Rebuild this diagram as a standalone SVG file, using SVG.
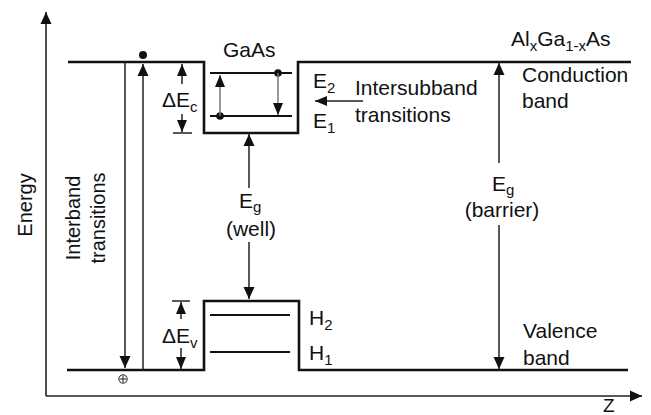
<svg xmlns="http://www.w3.org/2000/svg" width="651" height="415" viewBox="0 0 651 415">
<style>
text{font-family:"Liberation Sans",Arial,Helvetica,sans-serif;font-size:21px;fill:#111}
.sub{font-size:15px}
.band{fill:none;stroke:#111;stroke-width:2.6}
.lvl{stroke:#111;stroke-width:2.2}
.ax{stroke:#222;stroke-width:1.6;fill:none}
.ar{stroke:#222;stroke-width:1.5;fill:none}
.gr{stroke:#777;stroke-width:1.5;fill:none}
</style>
<defs>
<marker id="ah" markerWidth="12" markerHeight="12" refX="12" refY="6" orient="auto" markerUnits="userSpaceOnUse">
<path d="M0,0.5 L12,6 L0,11.5 z" fill="#111"/>
</marker>
<marker id="ahs" markerWidth="12" markerHeight="10" refX="12" refY="5" orient="auto" markerUnits="userSpaceOnUse">
<path d="M0,0 L12,5 L0,10 z" fill="#111"/>
</marker>
</defs>
<rect width="651" height="415" fill="#fff"/>

<g id="axes">
<line class="ax" x1="46" y1="396" x2="46" y2="12" marker-end="url(#ah)"/>
<line class="ax" x1="46" y1="396" x2="642" y2="396" marker-end="url(#ah)"/>
<text transform="translate(32,205) rotate(-90)" text-anchor="middle" style="font-size:20px">Energy</text>
<text x="603" y="412" style="font-size:19px">Z</text>
</g>

<g id="conduction-band">
<path class="band" d="M68,62 H204 V133 H298 V62 H631"/>
<text x="223" y="57">GaAs</text>
<text x="511" y="46">Al<tspan class="sub" dy="5">x</tspan><tspan dy="-5">Ga</tspan><tspan class="sub" dy="5">1-x</tspan><tspan dy="-5">As</tspan></text>
<text x="522" y="82">Conduction</text>
<text x="522" y="108">band</text>
</g>

<g id="valence-band">
<path class="band" d="M67,370 H204 V301 H299 V370 H628"/>
<text x="523" y="338">Valence</text>
<text x="523" y="365">band</text>
</g>

<g id="subbands">
<line class="lvl" x1="210" y1="73" x2="292" y2="73"/>
<line class="lvl" x1="210" y1="116" x2="292" y2="116"/>
<circle cx="278" cy="73" r="3.8" fill="#111"/>
<circle cx="220" cy="116" r="3.8" fill="#111"/>
<text x="313" y="88">E<tspan class="sub" dy="5">2</tspan></text>
<text x="313" y="128">E<tspan class="sub" dy="5">1</tspan></text>
<line class="lvl" x1="210" y1="315" x2="290" y2="315"/>
<line class="lvl" x1="210" y1="352" x2="290" y2="352"/>
<text x="309" y="325">H<tspan class="sub" dy="5">2</tspan></text>
<text x="309" y="360">H<tspan class="sub" dy="5">1</tspan></text>
</g>

<g id="interband">
<circle cx="143" cy="55" r="4" fill="#111"/>
<g fill="none" stroke="#222" stroke-width="1">
<circle cx="123" cy="379" r="4.2"/>
<line x1="119.5" y1="379" x2="126.5" y2="379"/>
<line x1="123" y1="375.5" x2="123" y2="382.5"/>
</g>
<text transform="translate(80,218) rotate(-90)" text-anchor="middle" style="font-size:20px">Interband</text>
<text transform="translate(105,218) rotate(-90)" text-anchor="middle" style="font-size:20px">transitions</text>
</g>

<g id="labels">
<text x="162" y="107">ΔE<tspan class="sub" dy="5">c</tspan></text>
<text x="162" y="343">ΔE<tspan class="sub" dy="5">v</tspan></text>
<text x="239" y="208">E<tspan class="sub" dy="4">g</tspan></text>
<text x="251" y="236" text-anchor="middle">(well)</text>
<text x="492" y="191">E<tspan class="sub" dy="4">g</tspan></text>
<text x="502" y="217" text-anchor="middle">(barrier)</text>
<text x="355" y="95">Intersubband</text>
<text x="355" y="122">transitions</text>
</g>

<g id="connectors">
<line class="ar" x1="125" y1="62" x2="125" y2="368" marker-end="url(#ah)"/>
<line class="ar" x1="143" y1="370" x2="143" y2="64" marker-end="url(#ah)"/>
<line class="gr" x1="220" y1="116" x2="220" y2="75" marker-end="url(#ahs)"/>
<line class="gr" x1="278" y1="73" x2="278" y2="115" marker-end="url(#ahs)"/>
<line class="ar" x1="182" y1="84" x2="182" y2="64" marker-end="url(#ahs)"/>
<line class="ar" x1="182" y1="114" x2="182" y2="132" marker-end="url(#ahs)"/>
<line class="ar" x1="173" y1="133" x2="192" y2="133"/>
<line class="ar" x1="172" y1="301" x2="190" y2="301"/>
<line class="ar" x1="181" y1="319" x2="181" y2="302" marker-end="url(#ahs)"/>
<line class="ar" x1="181" y1="348" x2="181" y2="369" marker-end="url(#ahs)"/>
<line class="ar" x1="249" y1="188" x2="249" y2="134" marker-end="url(#ah)"/>
<line class="ar" x1="249" y1="242" x2="249" y2="299" marker-end="url(#ah)"/>
<line class="ar" x1="499" y1="163" x2="499" y2="63" marker-end="url(#ah)"/>
<line class="ar" x1="499" y1="225" x2="499" y2="369" marker-end="url(#ah)"/>
<line class="ar" x1="363" y1="101" x2="315" y2="101" marker-end="url(#ahs)"/>
</g>
</svg>
